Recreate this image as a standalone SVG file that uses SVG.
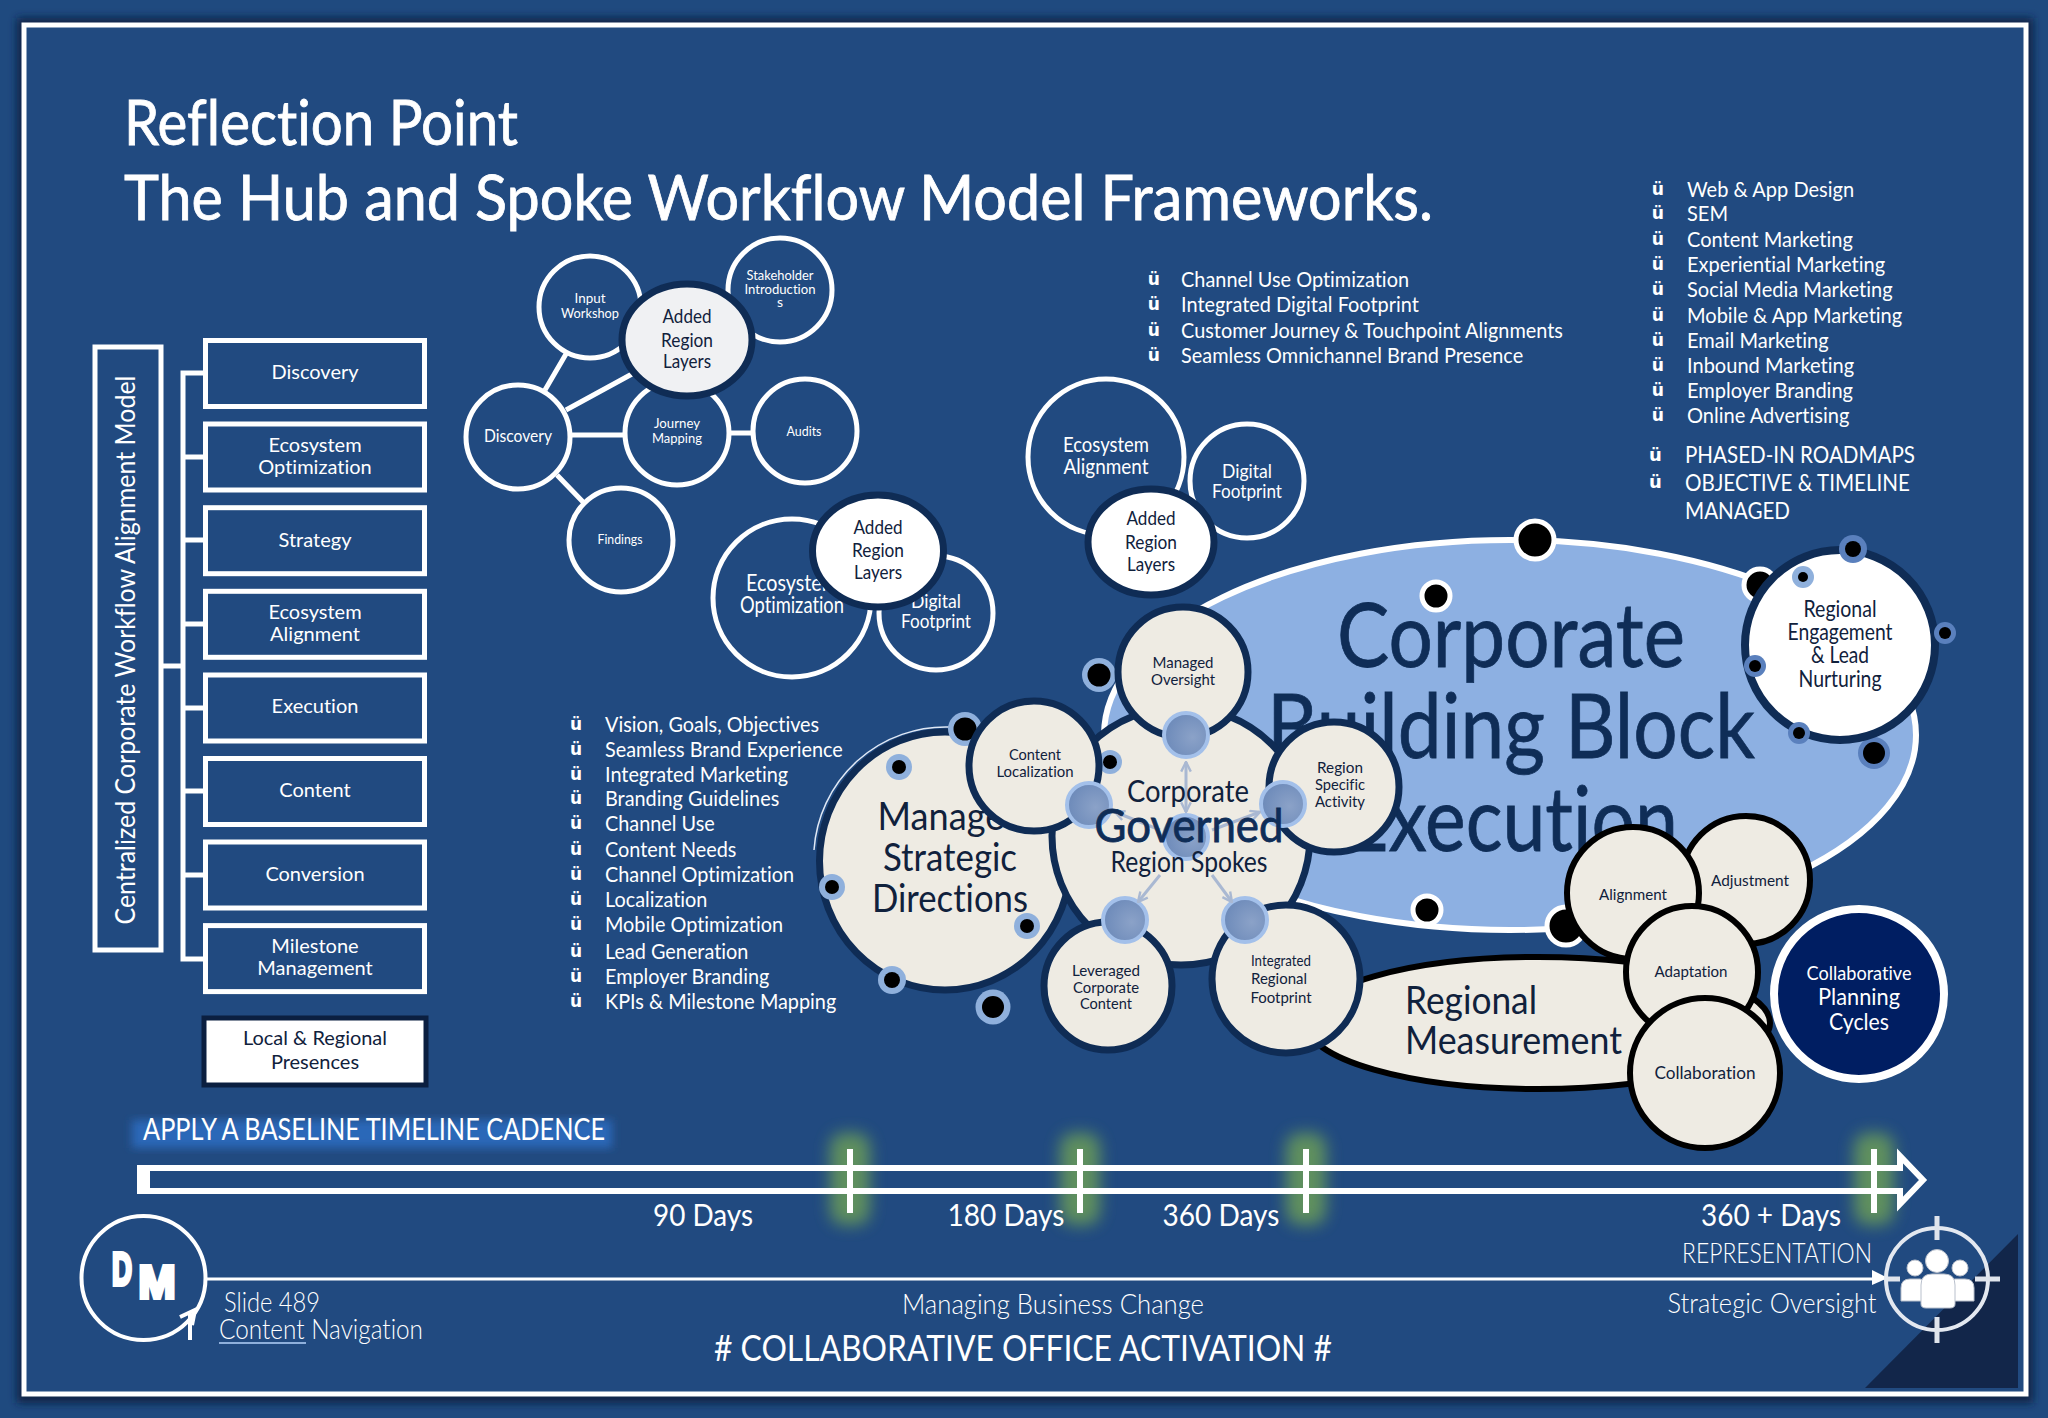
<svg xmlns="http://www.w3.org/2000/svg" width="2048" height="1418" viewBox="0 0 2048 1418">
<defs>
<filter id="b3" x="-20%" y="-20%" width="140%" height="140%"><feGaussianBlur stdDeviation="4"/></filter>
<filter id="b8" x="-80%" y="-30%" width="260%" height="160%"><feGaussianBlur stdDeviation="8"/></filter>
<radialGradient id="sp" cx="65%" cy="55%" r="70%"><stop offset="0" stop-color="#8ba2c8"/><stop offset="1" stop-color="#6a88b8"/></radialGradient>
<marker id="ah" viewBox="0 0 10 10" refX="9" refY="5" markerWidth="4" markerHeight="4" orient="auto-start-reverse"><path d="M1 1L9 5L1 9" fill="none" stroke="#a9b8d2" stroke-width="2"/></marker>
</defs>
<style>
text{font-family:"Lato","Liberation Sans",sans-serif;text-anchor:middle;font-variant-ligatures:none}
.w{fill:#fff}.n{fill:#0f2d57;stroke:#0f2d57;stroke-width:.8}.k{fill:#10213c}
.l{text-anchor:start;fill:#fff;font-size:21px}
.u{font-family:"DejaVu Sans",sans-serif;font-weight:700;font-size:18px;fill:#fff;text-anchor:start}
.lt{font-weight:300;fill:#fff}
.o{fill:none;stroke:#fff;stroke-width:5}
.nav{stroke:#0f2c55;stroke-width:7}
.cr{fill:#eeebe3}
.bk{fill:#eeebe3;stroke:#000;stroke-width:6}
.box{fill:none;stroke:#fff;stroke-width:5}
.spk{fill:url(#sp);stroke:#a3c0ea;stroke-width:4}
.d{fill:#000}
.r1{fill:#8fb0dc}.r2{fill:#5a80bd}
.c{stroke:#fff;stroke-width:5;fill:none}
.ar{stroke:#a9b8d2;stroke-width:3;fill:none;marker-end:url(#ah)}
.h{stroke:#fff;stroke-width:.8}
.dm{font-family:"Liberation Sans",sans-serif;font-weight:700;stroke:#fff;stroke-width:4}
</style>
<rect width="2048" height="1418" fill="#1f4a7f"/>
<rect x="24" y="25" width="2002" height="1371" fill="none" stroke="#0e2444" stroke-width="14" filter="url(#b3)"/>
<rect x="24" y="25" width="2002" height="1369" fill="#214a80" stroke="#fff" stroke-width="5"/>
<path d="M2018 1234V1388H1865Z" fill="#12264a"/>

<g id="title">
<text x="124" y="145" font-size="62" class="w h" style="text-anchor:start" textLength="394" lengthAdjust="spacingAndGlyphs">Reflection Point</text>
<text x="124" y="220" font-size="62" class="w h" style="text-anchor:start" textLength="1309" lengthAdjust="spacingAndGlyphs">The Hub and Spoke Workflow Model Frameworks.</text>
</g>

<g id="connectors">
<path class="c" d="M163 666H183M205 373H183V959H205M183 457H205M183 540H205M183 624H205M183 708H205M183 791H205M183 875H205"/>
<path class="c" d="M545 390L566 354M566 410L632 374M570 435H625M728 433H752M557 475L584 503"/>
</g>

<g id="model"><rect x="95" y="347" width="66" height="603" class="box"/>
<text transform="translate(135 650) rotate(-90)" font-size="27" class="w" textLength="549" lengthAdjust="spacingAndGlyphs">Centralized Corporate Workflow Alignment Model</text></g>
<g id="n-discovery"><rect x="205.500" y="340.500" width="219" height="66" class="box"/><text x="315" y="379" font-size="20" class="w">Discovery</text></g>
<g id="n-ecoopt"><rect x="205.500" y="424" width="219" height="66" class="box"/><text x="315" y="452" font-size="20" class="w">Ecosystem</text><text x="315" y="474" font-size="20" class="w">Optimization</text></g>
<g id="n-strategy"><rect x="205.500" y="507.700" width="219" height="66" class="box"/><text x="315" y="547" font-size="20" class="w">Strategy</text></g>
<g id="n-ecoalign"><rect x="205.500" y="591.300" width="219" height="66" class="box"/><text x="315" y="619" font-size="20" class="w">Ecosystem</text><text x="315" y="641" font-size="20" class="w">Alignment</text></g>
<g id="n-execution"><rect x="205.500" y="675" width="219" height="66" class="box"/><text x="315" y="713" font-size="20" class="w">Execution</text></g>
<g id="n-content"><rect x="205.500" y="758.500" width="219" height="66" class="box"/><text x="315" y="797" font-size="20" class="w">Content</text></g>
<g id="n-conversion"><rect x="205.500" y="842" width="219" height="66" class="box"/><text x="315" y="881" font-size="20" class="w">Conversion</text></g>
<g id="n-milestone"><rect x="205.500" y="925.600" width="219" height="66" class="box"/><text x="315" y="953" font-size="20" class="w">Milestone</text><text x="315" y="975" font-size="20" class="w">Management</text></g>
<g id="n-local"><rect x="204" y="1018" width="222" height="67" fill="#fff" stroke="#0b1f40" stroke-width="5"/><text x="315" y="1045" font-size="20" class="k" textLength="144" lengthAdjust="spacingAndGlyphs">Local &amp; Regional</text><text x="315" y="1069" font-size="20" class="k">Presences</text></g>

<g id="n-input"><circle cx="590" cy="307" r="51" class="o"/><text x="590" y="303" font-size="14" class="w" textLength="31" lengthAdjust="spacingAndGlyphs">Input</text><text x="590" y="318" font-size="14" class="w" textLength="58" lengthAdjust="spacingAndGlyphs">Workshop</text></g>
<g id="n-stake"><circle cx="780" cy="290" r="52" class="o"/><text x="780" y="280" font-size="14" class="w" textLength="67" lengthAdjust="spacingAndGlyphs">Stakeholder</text><text x="780" y="294" font-size="14" class="w" textLength="71" lengthAdjust="spacingAndGlyphs">Introduction</text><text x="780" y="307" font-size="14" class="w">s</text></g>
<g id="n-journey"><circle cx="677" cy="433" r="52" class="o"/><text x="677" y="428" font-size="14" class="w" textLength="46" lengthAdjust="spacingAndGlyphs">Journey</text><text x="677" y="443" font-size="14" class="w" textLength="50" lengthAdjust="spacingAndGlyphs">Mapping</text></g>
<g id="n-added1"><ellipse cx="687" cy="340" rx="65" ry="56" fill="#f0f1f3" stroke="#0f2c55" stroke-width="7"/><text x="687" y="323" font-size="20" class="k" textLength="49" lengthAdjust="spacingAndGlyphs">Added</text><text x="687" y="347" font-size="20" class="k" textLength="52" lengthAdjust="spacingAndGlyphs">Region</text><text x="687" y="368" font-size="20" class="k" textLength="48" lengthAdjust="spacingAndGlyphs">Layers</text></g>
<g id="n-disc2"><circle cx="518" cy="437" r="52" class="o"/><text x="518" y="442" font-size="18" class="w" textLength="68" lengthAdjust="spacingAndGlyphs">Discovery</text></g>
<g id="n-audits"><circle cx="805" cy="431" r="52" class="o"/><text x="804" y="436" font-size="14" class="w" textLength="35" lengthAdjust="spacingAndGlyphs">Audits</text></g>
<g id="n-findings"><circle cx="621" cy="540" r="52" class="o"/><text x="620" y="544" font-size="14" class="w" textLength="45" lengthAdjust="spacingAndGlyphs">Findings</text></g>

<g id="n-ecoopt2"><circle cx="792" cy="598" r="79" class="o"/><text x="792" y="591" font-size="23" class="w" textLength="92" lengthAdjust="spacingAndGlyphs">Ecosystem</text><text x="792" y="613" font-size="23" class="w" textLength="104" lengthAdjust="spacingAndGlyphs">Optimization</text></g>
<g id="n-digital2"><circle cx="936" cy="613" r="57" class="o"/><text x="936" y="608" font-size="20" class="w" textLength="50" lengthAdjust="spacingAndGlyphs">Digital</text><text x="936" y="628" font-size="20" class="w" textLength="70" lengthAdjust="spacingAndGlyphs">Footprint</text></g>
<g id="n-added2"><ellipse cx="878" cy="551" rx="65.500" ry="56" fill="#fff" stroke="#0f2c55" stroke-width="7"/><text x="878" y="534" font-size="20" class="k" textLength="49" lengthAdjust="spacingAndGlyphs">Added</text><text x="878" y="557" font-size="20" class="k" textLength="52" lengthAdjust="spacingAndGlyphs">Region</text><text x="878" y="579" font-size="20" class="k" textLength="48" lengthAdjust="spacingAndGlyphs">Layers</text></g>

<g id="n-ecoalign2"><circle cx="1106" cy="457" r="78" class="o"/><text x="1106" y="452" font-size="21" class="w" textLength="86" lengthAdjust="spacingAndGlyphs">Ecosystem</text><text x="1106" y="474" font-size="21" class="w" textLength="85" lengthAdjust="spacingAndGlyphs">Alignment</text></g>
<g id="n-digital3"><circle cx="1247" cy="481" r="57" class="o"/><text x="1247" y="478" font-size="20" class="w" textLength="50" lengthAdjust="spacingAndGlyphs">Digital</text><text x="1247" y="498" font-size="20" class="w" textLength="70" lengthAdjust="spacingAndGlyphs">Footprint</text></g>
<g id="n-added3"><ellipse cx="1151" cy="542" rx="63" ry="53" fill="#fff" stroke="#0f2c55" stroke-width="7"/><text x="1151" y="525" font-size="20" class="k" textLength="49" lengthAdjust="spacingAndGlyphs">Added</text><text x="1151" y="549" font-size="20" class="k" textLength="52" lengthAdjust="spacingAndGlyphs">Region</text><text x="1151" y="571" font-size="20" class="k" textLength="48" lengthAdjust="spacingAndGlyphs">Layers</text></g>

<g id="list-top">
<g transform="translate(1687 0) scale(.955 1) translate(-1687 0)">
<text x="1650" y="195" class="u">ü</text><text x="1687" y="197" class="l">Web &amp; App Design</text>
<text x="1650" y="219" class="u">ü</text><text x="1687" y="221" class="l">SEM</text>
<text x="1650" y="245" class="u">ü</text><text x="1687" y="247" class="l">Content Marketing</text>
<text x="1650" y="270" class="u">ü</text><text x="1687" y="272" class="l">Experiential Marketing</text>
<text x="1650" y="295" class="u">ü</text><text x="1687" y="297" class="l">Social Media Marketing</text>
<text x="1650" y="321" class="u">ü</text><text x="1687" y="323" class="l">Mobile &amp; App Marketing</text>
<text x="1650" y="346" class="u">ü</text><text x="1687" y="348" class="l">Email Marketing</text>
<text x="1650" y="371" class="u">ü</text><text x="1687" y="373" class="l">Inbound Marketing</text>
<text x="1650" y="396" class="u">ü</text><text x="1687" y="398" class="l">Employer Branding</text>
<text x="1650" y="421" class="u">ü</text><text x="1687" y="423" class="l">Online Advertising</text>
</g>
<text x="1649" y="461" class="u">ü</text><text x="1685" y="463" class="l" style="font-size:24px" textLength="230" lengthAdjust="spacingAndGlyphs">PHASED-IN ROADMAPS</text>
<text x="1649" y="488" class="u">ü</text><text x="1685" y="491" class="l" style="font-size:24px" textLength="225" lengthAdjust="spacingAndGlyphs">OBJECTIVE &amp; TIMELINE</text>
<text x="1685" y="519" class="l" style="font-size:24px" textLength="105" lengthAdjust="spacingAndGlyphs">MANAGED</text>
</g>
<g id="list-channel" transform="translate(1181 0) scale(.948 1) translate(-1181 0)">
<text x="1146" y="285" class="u">ü</text><text x="1181" y="287" class="l">Channel Use Optimization</text>
<text x="1146" y="310" class="u">ü</text><text x="1181" y="312" class="l">Integrated Digital Footprint</text>
<text x="1146" y="336" class="u">ü</text><text x="1181" y="338" class="l">Customer Journey &amp; Touchpoint Alignments</text>
<text x="1146" y="361" class="u">ü</text><text x="1181" y="363" class="l">Seamless Omnichannel Brand Presence</text>
</g>
<g id="list-vision" transform="translate(605 0) scale(.945 1) translate(-605 0)">
<text x="568" y="730" class="u">ü</text><text x="605" y="732" class="l">Vision, Goals, Objectives</text>
<text x="568" y="755" class="u">ü</text><text x="605" y="757" class="l">Seamless Brand Experience</text>
<text x="568" y="780" class="u">ü</text><text x="605" y="782" class="l">Integrated Marketing</text>
<text x="568" y="804" class="u">ü</text><text x="605" y="806" class="l">Branding Guidelines</text>
<text x="568" y="829" class="u">ü</text><text x="605" y="831" class="l">Channel Use</text>
<text x="568" y="855" class="u">ü</text><text x="605" y="857" class="l">Content Needs</text>
<text x="568" y="880" class="u">ü</text><text x="605" y="882" class="l">Channel Optimization</text>
<text x="568" y="905" class="u">ü</text><text x="605" y="907" class="l">Localization</text>
<text x="568" y="930" class="u">ü</text><text x="605" y="932" class="l">Mobile Optimization</text>
<text x="568" y="957" class="u">ü</text><text x="605" y="959" class="l">Lead Generation</text>
<text x="568" y="982" class="u">ü</text><text x="605" y="984" class="l">Employer Branding</text>
<text x="568" y="1007" class="u">ü</text><text x="605" y="1009" class="l">KPIs &amp; Milestone Mapping</text>
</g>

<g id="n-corporate-block">
<ellipse cx="1510" cy="735" rx="406" ry="195" fill="#8db0e2" stroke="#fff" stroke-width="6"/>
<circle cx="1535" cy="540" r="19" class="d" stroke="#fff" stroke-width="5"/>
<circle cx="1436" cy="596" r="14" class="d" stroke="#fff" stroke-width="5"/>
<circle cx="1760" cy="585" r="16" class="d" stroke="#fff" stroke-width="5"/>
<circle cx="1874" cy="753" r="16" class="r2"/><circle cx="1874" cy="753" r="11" class="d"/>
<circle cx="1566" cy="926" r="19" class="d" stroke="#fff" stroke-width="5"/>
<circle cx="1427" cy="910" r="14" class="d" stroke="#fff" stroke-width="5"/>
<text x="1511" y="667" font-size="90" class="n" textLength="348" lengthAdjust="spacingAndGlyphs">Corporate</text>
<text x="1511" y="758" font-size="90" class="n" textLength="488" lengthAdjust="spacingAndGlyphs">Building Block</text>
<text x="1511" y="851" font-size="90" class="n" textLength="334" lengthAdjust="spacingAndGlyphs">Execution</text>
</g>

<g id="n-engagement">
<circle cx="1840" cy="645" r="95" fill="#fff" stroke="#0f2c55" stroke-width="8"/>
<circle cx="1853" cy="549" r="14" class="r2"/><circle cx="1853" cy="549" r="8" class="d"/>
<circle cx="1803" cy="577" r="11" class="r1"/><circle cx="1803" cy="577" r="5" class="d"/>
<circle cx="1945" cy="633" r="11" class="r2"/><circle cx="1945" cy="633" r="6" class="d"/>
<circle cx="1755" cy="666" r="11" class="r2"/><circle cx="1755" cy="666" r="6" class="d"/>
<circle cx="1799" cy="733" r="11" class="r2"/><circle cx="1799" cy="733" r="6" class="d"/>
<text x="1840" y="617" font-size="23" class="k" textLength="73" lengthAdjust="spacingAndGlyphs">Regional</text><text x="1840" y="640" font-size="23" class="k" textLength="105" lengthAdjust="spacingAndGlyphs">Engagement</text><text x="1840" y="663" font-size="23" class="k" textLength="58" lengthAdjust="spacingAndGlyphs">&amp; Lead</text><text x="1840" y="687" font-size="23" class="k" textLength="83" lengthAdjust="spacingAndGlyphs">Nurturing</text>
</g>

<g id="n-measurement"><ellipse cx="1538" cy="1023" rx="232" ry="66" class="bk"/>
<text x="1405" y="1014" font-size="39" class="k" style="text-anchor:start" textLength="132" lengthAdjust="spacingAndGlyphs">Regional</text><text x="1405" y="1054" font-size="39" class="k" style="text-anchor:start" textLength="217" lengthAdjust="spacingAndGlyphs">Measurement</text></g>
<g id="n-adjustment"><circle cx="1746" cy="880" r="64" class="bk"/><text x="1750" y="886" font-size="16" class="k" textLength="78" lengthAdjust="spacingAndGlyphs">Adjustment</text></g>
<g id="n-alignment"><circle cx="1633" cy="893" r="66" class="bk"/><text x="1633" y="900" font-size="16" class="k" textLength="68" lengthAdjust="spacingAndGlyphs">Alignment</text></g>
<g id="n-adaptation"><circle cx="1692" cy="972" r="66" class="bk"/><text x="1691" y="977" font-size="16" class="k" textLength="73" lengthAdjust="spacingAndGlyphs">Adaptation</text></g>
<g id="n-collaboration"><circle cx="1705" cy="1073" r="75" class="bk"/><text x="1705" y="1079" font-size="17" class="k" textLength="101" lengthAdjust="spacingAndGlyphs">Collaboration</text></g>
<g id="n-planning"><circle cx="1859" cy="994" r="85" fill="#001e62" stroke="#fff" stroke-width="8"/><text x="1859" y="980" font-size="20" class="w" textLength="105" lengthAdjust="spacingAndGlyphs">Collaborative</text><text x="1859" y="1005" font-size="24" class="w" textLength="82" lengthAdjust="spacingAndGlyphs">Planning</text><text x="1859" y="1030" font-size="23" class="w" textLength="60" lengthAdjust="spacingAndGlyphs">Cycles</text></g>

<g id="n-strategic">
<path d="M814 850A132 132 0 0 1 950 727" fill="none" stroke="#dfe8f5" stroke-width="1.500"/>
<ellipse cx="945" cy="861" rx="125.500" ry="129" class="cr nav"/>
<circle cx="965" cy="729" r="17" class="r1"/><circle cx="965" cy="729" r="11.500" class="d"/>
<circle cx="899" cy="767" r="13" class="r1"/><circle cx="899" cy="767" r="7" class="d"/>
<circle cx="832" cy="887" r="13" class="r1"/><circle cx="832" cy="887" r="7" class="d"/>
<circle cx="1027" cy="926" r="13" class="r1"/><circle cx="1027" cy="926" r="7" class="d"/>
<circle cx="892" cy="980" r="14" class="r1"/><circle cx="892" cy="980" r="8" class="d"/>
<circle cx="993" cy="1007" r="17.500" class="r1"/><circle cx="993" cy="1007" r="11" class="d"/>
<text x="951" y="830" font-size="39" class="k" textLength="147" lengthAdjust="spacingAndGlyphs">Managed</text><text x="950" y="871" font-size="39" class="k" textLength="134" lengthAdjust="spacingAndGlyphs">Strategic</text><text x="950" y="912" font-size="39" class="k" textLength="156" lengthAdjust="spacingAndGlyphs">Directions</text>
</g>
<g id="n-hub"><circle cx="1181" cy="836" r="129" class="cr nav"/>
<circle cx="1099" cy="675" r="17" class="r1"/><circle cx="1099" cy="675" r="11.500" class="d"/>
<circle cx="1110" cy="762" r="12" class="r1"/><circle cx="1110" cy="762" r="7" class="d"/></g>
<g id="n-oversight"><circle cx="1183" cy="672" r="65" class="cr nav"/><text x="1183" y="668" font-size="16" class="k" textLength="61" lengthAdjust="spacingAndGlyphs">Managed</text><text x="1183" y="685" font-size="16" class="k" textLength="64" lengthAdjust="spacingAndGlyphs">Oversight</text></g>
<g id="n-localization"><circle cx="1034" cy="766" r="65" class="cr nav"/><text x="1035" y="760" font-size="16" class="k" textLength="52" lengthAdjust="spacingAndGlyphs">Content</text><text x="1035" y="777" font-size="16" class="k" textLength="77" lengthAdjust="spacingAndGlyphs">Localization</text></g>
<g id="n-specific"><circle cx="1334" cy="787" r="65" class="cr nav"/><text x="1340" y="773" font-size="16" class="k" textLength="46" lengthAdjust="spacingAndGlyphs">Region</text><text x="1340" y="790" font-size="16" class="k" textLength="50" lengthAdjust="spacingAndGlyphs">Specific</text><text x="1340" y="807" font-size="16" class="k" textLength="50" lengthAdjust="spacingAndGlyphs">Activity</text></g>
<g id="n-leveraged"><circle cx="1108" cy="986" r="64" class="cr nav"/><text x="1106" y="976" font-size="16" class="k" textLength="68" lengthAdjust="spacingAndGlyphs">Leveraged</text><text x="1106" y="993" font-size="16" class="k" textLength="66" lengthAdjust="spacingAndGlyphs">Corporate</text><text x="1106" y="1009" font-size="16" class="k" textLength="52" lengthAdjust="spacingAndGlyphs">Content</text></g>
<g id="n-integrated"><circle cx="1286" cy="979" r="74" class="cr nav"/><text x="1281" y="966" font-size="15" class="k" textLength="60" lengthAdjust="spacingAndGlyphs">Integrated</text><text x="1279" y="984" font-size="16" class="k" textLength="56" lengthAdjust="spacingAndGlyphs">Regional</text><text x="1281" y="1003" font-size="16" class="k" textLength="61" lengthAdjust="spacingAndGlyphs">Footprint</text></g>
<g id="spokes">
<circle cx="1186" cy="735" r="22" class="spk"/><circle cx="1089" cy="805" r="22" class="spk"/><circle cx="1283" cy="804" r="22" class="spk"/><circle cx="1186" cy="837" r="22" class="spk"/><circle cx="1125" cy="920" r="22" class="spk"/><circle cx="1245" cy="920" r="22" class="spk"/>
<path class="ar" d="M1186 812V762" style="marker-start:url(#ah)"/><path class="ar" d="M1160 875L1138 902"/><path class="ar" d="M1212 875L1232 902"/><path class="ar" d="M1160 830L1115 812"/><path class="ar" d="M1212 830L1260 812"/>
<text x="1188" y="802" font-size="30" class="k" textLength="122" lengthAdjust="spacingAndGlyphs">Corporate</text>
<text x="1189" y="842" font-size="46" class="n" textLength="189" lengthAdjust="spacingAndGlyphs">Governed</text>
<text x="1189" y="872" font-size="28" class="k" textLength="157" lengthAdjust="spacingAndGlyphs">Region Spokes</text>
</g>

<g id="timeline">
<rect x="132" y="1120" width="480" height="28" fill="#2a68b8" filter="url(#b3)"/>
<text x="143" y="1140" font-size="30" class="w" style="text-anchor:start" textLength="462" lengthAdjust="spacingAndGlyphs">APPLY A BASELINE TIMELINE CADENCE</text>
<g fill="#6b9c58" opacity=".85" filter="url(#b8)"><rect x="830" y="1133" width="40" height="92" rx="14"/><rect x="1060" y="1133" width="40" height="92" rx="14"/><rect x="1286" y="1133" width="40" height="92" rx="14"/><rect x="1854" y="1133" width="40" height="92" rx="14"/></g>
<path d="M140 1168H1900V1156L1923 1180L1900 1204V1191H140Z" fill="none" stroke="#fff" stroke-width="6"/>
<rect x="137" y="1165" width="13" height="29" fill="#fff"/>
<path d="M850 1149V1213M1080 1149V1213M1306 1149V1213M1874 1149V1213" stroke="#fff" stroke-width="6"/>
<text x="703" y="1226" font-size="31" class="w" textLength="100" lengthAdjust="spacingAndGlyphs">90 Days</text><text x="1006" y="1226" font-size="31" class="w" textLength="117" lengthAdjust="spacingAndGlyphs">180 Days</text><text x="1221" y="1226" font-size="31" class="w" textLength="117" lengthAdjust="spacingAndGlyphs">360 Days</text><text x="1771" y="1226" font-size="31" class="w" textLength="140" lengthAdjust="spacingAndGlyphs">360 + Days</text>
</g>
<g id="footer">
<path d="M206 1279H1874" stroke="#fff" stroke-width="3"/><path d="M1872 1270L1888 1278L1872 1285Z" fill="#fff"/>
<text x="1777" y="1263" font-size="27" class="lt" textLength="190" lengthAdjust="spacingAndGlyphs">REPRESENTATION</text>
<text x="1772" y="1313" font-size="27" class="lt" textLength="209" lengthAdjust="spacingAndGlyphs">Strategic Oversight</text>
<text x="1053" y="1314" font-size="27" class="lt" textLength="302" lengthAdjust="spacingAndGlyphs">Managing Business Change</text>
<text x="1023" y="1361" font-size="36" class="w" textLength="618" lengthAdjust="spacingAndGlyphs"># COLLABORATIVE OFFICE ACTIVATION #</text>
<text x="224" y="1312" font-size="27" class="lt" style="text-anchor:start" textLength="96" lengthAdjust="spacingAndGlyphs">Slide 489</text>
<text x="219" y="1339" font-size="27" class="lt" style="text-anchor:start" textLength="204" lengthAdjust="spacingAndGlyphs">Content Navigation</text>
<path d="M219 1343H306" stroke="#8fb0dc" stroke-width="2"/>
</g>
<g id="logo"><circle cx="143.500" cy="1278" r="62" fill="none" stroke="#fff" stroke-width="4"/>
<path d="M190 1313V1340M180 1317L195 1310L192 1325" fill="none" stroke="#fff" stroke-width="4"/>
<text x="122" y="1285" font-size="46" class="w dm" textLength="20" lengthAdjust="spacingAndGlyphs">D</text>
<text x="157" y="1298" font-size="46" class="w dm" textLength="37" lengthAdjust="spacingAndGlyphs">M</text></g>
<g id="oversight-icon">
<circle cx="1937" cy="1279" r="51" fill="none" stroke="#e3e8f0" stroke-width="4"/>
<path d="M1937 1216V1240M1937 1317V1343M1888 1279H1900M1975 1279H2000" stroke="#dfe4ec" stroke-width="5"/>
<g fill="#fff" stroke="#b9c0cc" stroke-width="1"><circle cx="1915" cy="1268" r="8"/><circle cx="1960" cy="1268" r="8"/><path d="M1901 1301V1288Q1901 1279 1910 1279H1920Q1925 1279 1925 1288V1301Z"/><path d="M1974 1301V1288Q1974 1279 1965 1279H1955Q1950 1279 1950 1288V1301Z"/><circle cx="1937" cy="1261" r="11.500"/><path d="M1921 1304V1285Q1921 1274 1932 1274H1944Q1955 1274 1955 1285V1304Q1955 1308 1950 1308H1926Q1921 1308 1921 1304Z"/></g>
</g>
</svg>
